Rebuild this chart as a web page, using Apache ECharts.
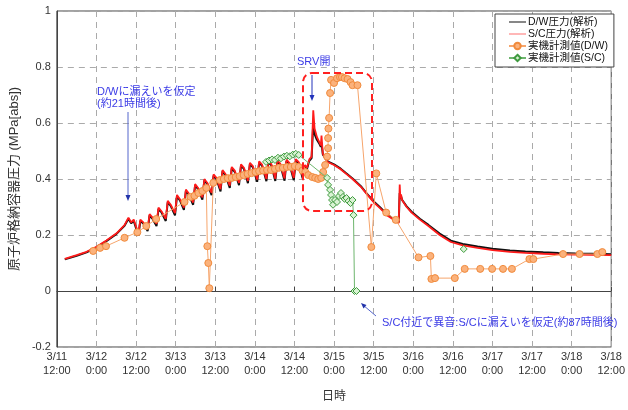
<!DOCTYPE html>
<html><head><meta charset="utf-8">
<script src="https://cdn.jsdelivr.net/npm/echarts@6/dist/echarts.min.js"></script>
<style>html,body{margin:0;padding:0;background:#fff}#c{width:628px;height:410px}</style>
</head><body><div id="c"></div>
<script>
// hours counted from 3/11 12:00
const xTickLabels = ["3/11\n12:00","3/12\n0:00","3/12\n12:00","3/13\n0:00","3/13\n12:00","3/14\n0:00","3/14\n12:00","3/15\n0:00","3/15\n12:00","3/16\n0:00","3/16\n12:00","3/17\n0:00","3/17\n12:00","3/18\n0:00","3/18\n12:00"];
const seriesNames = ["D/W圧力(解析)","S/C圧力(解析)","実機計測値(D/W)","実機計測値(S/C)"];

const scAnalysis = [
 [2.4,0.115],[6,0.128],[9,0.14],[12,0.158],[15,0.18],[18,0.205],[20.5,0.235],[21.7,0.262],[22.5,0.245],[23.3,0.255],
 [24.7,0.205],[25.3,0.255],[26.2,0.245],
 [27.5,0.222],[28.1,0.275],[29.0,0.262],
 [30.2,0.24],[30.8,0.298],[31.7,0.285],
 [33.0,0.258],[33.6,0.322],[34.5,0.308],
 [35.8,0.278],[36.4,0.343],[37.3,0.328],
 [38.5,0.298],[39.1,0.362],[40.0,0.348],
 [41.3,0.316],[41.9,0.382],[42.8,0.368],
 [44.1,0.334],[44.7,0.40],[45.6,0.386],
 [46.9,0.35],[47.5,0.417],[48.4,0.403],
 [49.6,0.364],[50.2,0.432],[51.1,0.418],
 [52.4,0.376],[53.0,0.443],[53.9,0.43],
 [55.2,0.386],[55.8,0.452],[56.7,0.44],
 [57.9,0.393],[58.5,0.458],[59.4,0.446],
 [60.7,0.398],[61.3,0.463],[62.2,0.451],
 [63.5,0.40],[64.1,0.465],[65.0,0.453],
 [66.2,0.401],[66.8,0.467],[67.7,0.455],
 [69.0,0.402],[69.6,0.469],[70.5,0.457],
 [71.8,0.404],[72.4,0.471],[73.3,0.46],
 [74.5,0.41],[75.2,0.45],[75.8,0.44],[76.5,0.47],[77.2,0.48],[77.7,0.645],[78.1,0.58],[78.8,0.55],[79.6,0.53],[80.0,0.52],[80.2,0.555],[80.6,0.49],
 [81.5,0.47],[82.2,0.46],[84,0.45],[86,0.435],[87.5,0.42],[89.6,0.40],[90,0.397],[92.3,0.37],[94,0.345],[96.2,0.315],[98,0.295],[100.1,0.27],[102,0.255],[103.6,0.243],
 [103.9,0.38],[104.1,0.33],[104.3,0.345],[104.6,0.325],[106,0.3],[107.5,0.28],[110,0.255],[112.6,0.232],[116,0.2],[119.4,0.175],[123,0.163],[127.5,0.154],[132,0.146],[137.3,0.14],[142,0.136],[147.4,0.133],[152,0.131],[157.2,0.13],[162,0.129],[168,0.128]
];
const dwAnalysis = [
 [2.4,0.113],[6,0.126],[9,0.138],[12,0.156],[15,0.178],[18,0.203],[20.5,0.233],[21.7,0.258],[22.5,0.242],[23.3,0.25],
 [24.7,0.198],[25.3,0.25],[26.2,0.241],
 [27.5,0.214],[28.1,0.27],[29.0,0.258],
 [30.2,0.232],[30.8,0.293],[31.7,0.281],
 [33.0,0.25],[33.6,0.317],[34.5,0.304],
 [35.8,0.27],[36.4,0.338],[37.3,0.324],
 [38.5,0.29],[39.1,0.357],[40.0,0.344],
 [41.3,0.308],[41.9,0.377],[42.8,0.364],
 [44.1,0.326],[44.7,0.395],[45.6,0.382],
 [46.9,0.342],[47.5,0.412],[48.4,0.399],
 [49.6,0.356],[50.2,0.427],[51.1,0.414],
 [52.4,0.368],[53.0,0.438],[53.9,0.426],
 [55.2,0.378],[55.8,0.447],[56.7,0.436],
 [57.9,0.385],[58.5,0.453],[59.4,0.442],
 [60.7,0.39],[61.3,0.458],[62.2,0.447],
 [63.5,0.392],[64.1,0.46],[65.0,0.449],
 [66.2,0.393],[66.8,0.462],[67.7,0.451],
 [69.0,0.394],[69.6,0.464],[70.5,0.453],
 [71.8,0.396],[72.4,0.466],[73.3,0.456],
 [74.5,0.402],[75.2,0.445],[75.8,0.436],[76.5,0.465],[77.2,0.475],[77.7,0.6],[78.1,0.56],[78.8,0.54],[79.6,0.525],[80.0,0.515],[80.2,0.53],[80.6,0.488],
 [81.5,0.472],[82.2,0.462],[84,0.452],[86,0.437],[87.5,0.422],[89.6,0.402],[90,0.4],[92.3,0.372],[94,0.347],[96.2,0.318],[98,0.298],[100.1,0.273],[102,0.258],[103.6,0.246],
 [103.9,0.35],[104.1,0.33],[104.3,0.338],[104.6,0.326],[106,0.302],[107.5,0.283],[110,0.258],[112.6,0.236],[116,0.205],[119.4,0.18],[123,0.168],[127.5,0.159],[132,0.151],[137.3,0.145],[142,0.141],[147.4,0.138],[152,0.136],[157.2,0.134],[162,0.133],[168,0.131]
];
const dwMeasured = [
 [11.0,0.143],[13.1,0.154],[14.9,0.16],[20.5,0.19],[24.4,0.21],[27.1,0.232],[30.1,0.257],
 [38.7,0.318],[40.5,0.336],[41.7,0.34],[42.9,0.35],[44.1,0.357],[45.3,0.368],
 [45.6,0.16],[45.9,0.10],[46.2,0.01],
 [47.4,0.386],[49.4,0.396],[50.6,0.40],[51.8,0.403],[53.0,0.404],[54.2,0.407],[55.4,0.41],[56.6,0.414],[57.8,0.418],[59.0,0.421],[60.2,0.425],[61.3,0.428],[62.5,0.43],[63.7,0.432],[64.9,0.432],[66.1,0.436],[67.3,0.44],[68.5,0.44],[69.7,0.443],[70.9,0.443],[72.1,0.446],[73.3,0.443],
 [74.4,0.43],[75.3,0.425],[76.2,0.414],[77.4,0.407],[78.3,0.404],[79.2,0.40],[80.1,0.404],[80.7,0.425],[81.3,0.45],[81.9,0.48],[82.2,0.51],[82.2,0.546],[82.3,0.58],[82.5,0.618],
 [82.8,0.707],[83.1,0.754],[84.0,0.743],[84.9,0.76],[85.8,0.764],[86.4,0.764],[87.2,0.76],[88.1,0.757],[89.0,0.746],[89.6,0.735],[91.1,0.735],
 [95.3,0.157],[96.8,0.42],[99.8,0.28],[102.7,0.254],[109.6,0.12],[113.2,0.125],[113.5,0.043],[114.6,0.046],[120.6,0.046],[123.6,0.079],[128.3,0.079],[131.9,0.079],[135.2,0.079],[137.9,0.079],[143.2,0.114],[144.4,0.114],[153.4,0.132],[158.4,0.132],[163.8,0.132],[165.3,0.139]
];
const scMeasured = [
 [63.4,0.461],[64.3,0.466],[65.2,0.47],[66.1,0.468],[67.0,0.476],[67.9,0.474],[68.8,0.48],[69.7,0.483],[70.6,0.481],[71.5,0.487],[72.4,0.49],[73.3,0.486],
 [81.9,0.404],[82.2,0.379],[82.8,0.361],[83.1,0.343],[83.4,0.325],[83.7,0.308],[84.3,0.325],[84.9,0.318],[85.5,0.339],[86.1,0.35],[86.7,0.336],[87.2,0.329],[87.8,0.332],[88.4,0.321],[89.0,0.314],[89.6,0.325],[89.9,0.271],[90.2,0.0],[90.8,0.0],
 null,[123.3,0.15]
];

const chart = echarts.init(document.getElementById('c'), null, {renderer:'canvas'});
const FONT = '"Liberation Sans","Noto Sans CJK JP",sans-serif';
const blue = '#3b3be6';
const arrowLine = '#5566cc';
const lineIcon = 'path://M0,0L0.01,0L0,0.01Z M0,3.4L17,3.4L17,4.6L0,4.6Z M17,8L16.99,8L17,7.99Z';
chart.setOption({
  animation:false,
  textStyle:{fontFamily:FONT},
  grid:{left:52,right:12,top:11,bottom:63,show:true,borderColor:'#444',borderWidth:1,backgroundColor:'transparent'},
  legend:{
    orient:'vertical', left:495, top:14, padding:[2,6,3,13], itemGap:0, itemWidth:17, itemHeight:8,
    borderColor:'#444', borderWidth:1, backgroundColor:'#fff',
    textStyle:{fontSize:10.5, lineHeight:12, color:'#111', fontFamily:FONT, padding:[0,0,0,-3]},
    data:[
      {name:seriesNames[0],icon:lineIcon,itemStyle:{color:'#111'}},
      {name:seriesNames[1],icon:lineIcon,itemStyle:{color:'#ff7070'}},
      seriesNames[2], seriesNames[3]
    ]
  },
  xAxis:{
    type:'value', min:0, max:168, interval:12,
    name:'日時', nameLocation:'middle', nameGap:44,
    nameTextStyle:{fontSize:12,color:'#333',fontFamily:FONT},
    axisLine:{show:true,lineStyle:{color:'#444'}},
    axisTick:{show:true,inside:true,length:4,lineStyle:{color:'#444'}},
    axisLabel:{fontSize:11,color:'#333',lineHeight:14,margin:3,formatter:(v)=>xTickLabels[Math.round(v/12)]},
    splitLine:{show:true,lineStyle:{color:'#aaa',type:[6,5],width:1}}
  },
  yAxis:{
    type:'value', min:-0.2, max:1, interval:0.2,
    name:'原子炉格納容器圧力 (MPa[abs])', nameLocation:'middle', nameGap:27, nameRotate:90,
    nameTextStyle:{fontSize:13,color:'#333',fontFamily:FONT},
    axisLine:{show:true,lineStyle:{color:'#444'}},
    axisTick:{show:false},
    axisLabel:{fontSize:11,color:'#333',margin:6,formatter:(v)=>String(+v.toFixed(1))},
    splitLine:{show:true,lineStyle:{color:'#aaa',type:[6,5],width:1}}
  },
  series:[
    {name:seriesNames[0],type:'line',data:dwAnalysis,showSymbol:false,symbol:'none',lineStyle:{color:'#111',width:2},itemStyle:{color:'#111'},z:2},
    {name:seriesNames[1],type:'line',data:scAnalysis,showSymbol:false,symbol:'none',lineStyle:{color:'#ff1a1a',width:1.8},itemStyle:{color:'#ff6666'},z:3},
    {name:seriesNames[2],type:'line',data:dwMeasured,symbol:'circle',symbolSize:7,showAllSymbol:true,
      lineStyle:{color:'#f6a56c',width:1},itemStyle:{color:'#fbb27c',borderColor:'#f08a3c',borderWidth:1},z:4},
    {name:seriesNames[3],type:'line',data:scMeasured,symbol:'diamond',symbolSize:7,showAllSymbol:true,connectNulls:false,
      lineStyle:{color:'#6db56d',width:1},itemStyle:{color:'#d9f3d3',borderColor:'#3f9a3f',borderWidth:1},z:5}
  ],
  graphic:[
    {type:'rect',shape:{x:303,y:73,width:69,height:138,r:9},style:{fill:'none',stroke:'#ff2020',lineWidth:2,lineDash:[7,4]},z:10},
    {type:'text',left:97,top:86,style:{text:'D/Wに漏えいを仮定',fill:blue,font:'11px '+FONT},z:10},
    {type:'text',left:97,top:98,style:{text:'(約21時間後)',fill:blue,font:'11px '+FONT},z:10},
    {type:'line',shape:{x1:128,y1:112,x2:128,y2:197},style:{stroke:arrowLine,lineWidth:1},z:10},
    {type:'polygon',shape:{points:[[125.5,195],[130.5,195],[128,201]]},style:{fill:'#2233aa'},z:10},
    {type:'text',left:297,top:56,style:{text:'SRV開',fill:blue,font:'11px '+FONT},z:10},
    {type:'line',shape:{x1:312,y1:75,x2:312,y2:97},style:{stroke:'#2233bb',lineWidth:1},z:10},
    {type:'polygon',shape:{points:[[309.5,95],[314.5,95],[312,101]]},style:{fill:'#2233bb'},z:10},
    {type:'text',left:382,top:317,style:{text:'S/C付近で異音:S/Cに漏えいを仮定(約87時間後)',fill:blue,font:'11px '+FONT},z:10},
    {type:'line',shape:{x1:376,y1:316,x2:363,y2:305},style:{stroke:arrowLine,lineWidth:1},z:10},
    {type:'polygon',shape:{points:[[361,303],[366.5,305],[363.5,308.5]]},style:{fill:'#2233aa'},z:10}
  ]
});
</script></body></html>
